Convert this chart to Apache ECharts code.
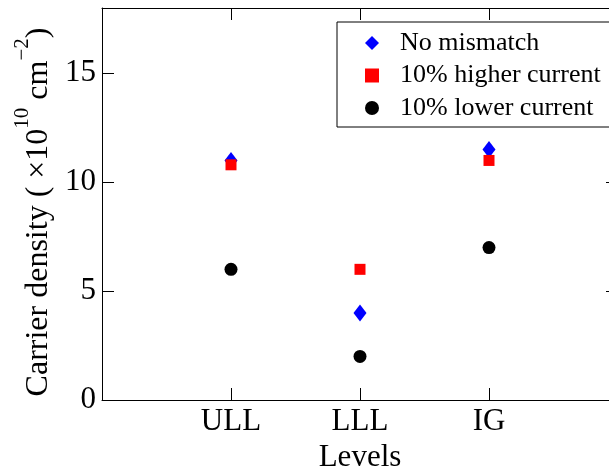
<!DOCTYPE html>
<html>
<head>
<meta charset="utf-8">
<script src="https://cdn.jsdelivr.net/npm/echarts@6/dist/echarts.min.js"></script>
<style>html,body{margin:0;padding:0;background:#fff}#c{width:609px;height:468px}</style>
</head>
<body>
<div id="c"></div>
<script>
const categories = ['ULL', 'LLL', 'IG'];
const noMismatch = [11.0, 4.0, 11.5];
const higherCurrent = [10.8, 6.0, 11.0];
const lowerCurrent = [6.0, 2.0, 7.0];
const seriesNames = ['No mismatch', '10% higher current', '10% lower current'];
const yTicks = [0, 5, 10, 15];

const font = 'Liberation Serif';
const xCats = [''].concat(categories, ['']);
const pairs = arr => categories.map((c, i) => [i + 1, arr[i]]);

const chart = echarts.init(document.getElementById('c'), null, {renderer: 'canvas'});
const axisLine = {show: true, onZero: false, lineStyle: {color: '#000', width: 1}};
const tick = {show: true, inside: true, length: 12, lineStyle: {color: '#000', width: 1}};
chart.setOption({
  animation: false,
  backgroundColor: '#fff',
  grid: {left: 102, top: 8, width: 516, height: 392, containLabel: false, outerBoundsMode: 'none'},
  legend: {
    orient: 'vertical', left: 337, top: 22,
    borderColor: '#000', borderWidth: 1, backgroundColor: '#fff',
    padding: [8, 10, 6, 28],
    itemWidth: 14, itemHeight: 14, itemGap: 6.5,
    textStyle: {fontFamily: font, fontSize: 26, color: '#000', padding: [0, 0, 0, 16]},
    data: seriesNames
  },
  xAxis: [{
    type: 'value', min: 0, max: 4, interval: 1, position: 'bottom',
    axisLine: axisLine, axisTick: tick,
    axisLabel: {fontFamily: font, fontSize: 31, color: '#000', margin: 6,
      formatter: v => xCats[v] || ''},
    splitLine: {show: false},
    name: 'Levels', nameLocation: 'middle', nameGap: 37,
    nameTextStyle: {fontFamily: font, fontSize: 31, color: '#000'}
  }, {
    type: 'value', min: 0, max: 4, interval: 1, position: 'top',
    axisLine: axisLine, axisTick: tick,
    axisLabel: {show: false}, splitLine: {show: false}
  }],
  yAxis: [{
    type: 'value', min: 0, max: 18, interval: 5, position: 'left',
    axisLine: axisLine, axisTick: tick,
    axisLabel: {fontFamily: font, fontSize: 31, color: '#000', margin: 6,
      formatter: v => yTicks.indexOf(v) >= 0 ? String(v) : ''},
    splitLine: {show: false},
    name: '{b|Carrier density ( ×10}{s|10}{b| cm}{s|−2}{b|)}',
    nameLocation: 'middle', nameGap: 47,
    nameTextStyle: {
      fontFamily: font, color: '#000', padding: [0, 16, 0, 0],
      rich: {
        b: {fontFamily: font, fontSize: 32, color: '#000', verticalAlign: 'bottom', lineHeight: 42},
        s: {fontFamily: font, fontSize: 21, color: '#000', verticalAlign: 'top', lineHeight: 21}
      }
    }
  }, {
    type: 'value', min: 0, max: 18, interval: 5, position: 'right',
    axisLine: axisLine, axisTick: tick,
    axisLabel: {show: false}, splitLine: {show: false}
  }],
  series: [{
    name: seriesNames[0], type: 'scatter', symbol: 'diamond', symbolSize: [13, 17],
    itemStyle: {color: '#0000ff', opacity: 1}, data: pairs(noMismatch), z: 2
  }, {
    name: seriesNames[1], type: 'scatter', symbol: 'rect', symbolSize: 11,
    itemStyle: {color: '#ff0000', opacity: 1}, data: pairs(higherCurrent), z: 3
  }, {
    name: seriesNames[2], type: 'scatter', symbol: 'circle', symbolSize: 13,
    itemStyle: {color: '#000000', opacity: 1}, data: pairs(lowerCurrent), z: 4
  }]
});
</script>
</body>
</html>
